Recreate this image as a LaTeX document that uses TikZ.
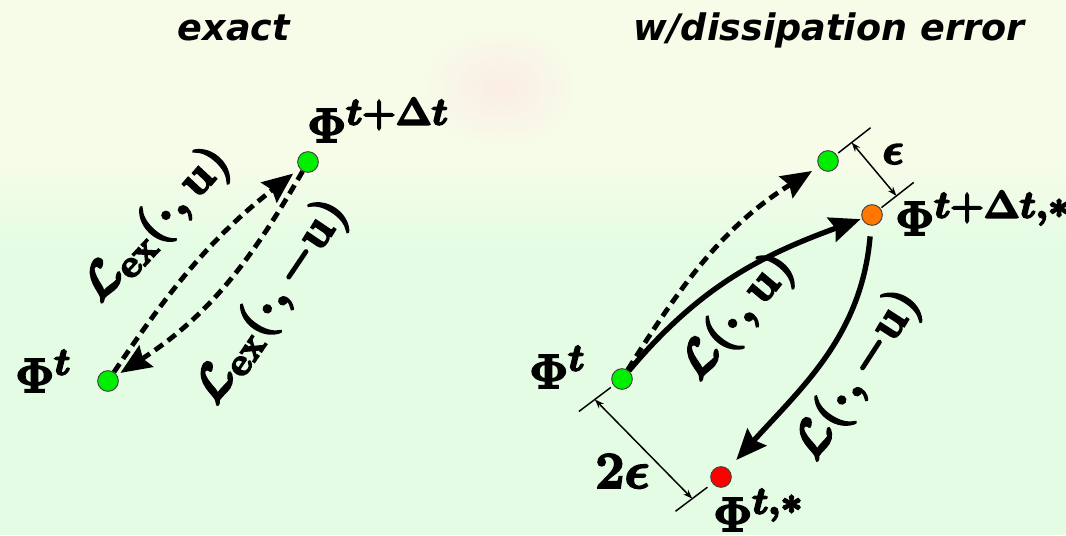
\documentclass[tikz,border=0pt]{standalone}
\usepackage{fix-cm}
\usepackage[no-math]{fontspec}
\newfontfamily\titlefont{DejaVu Sans}
\usetikzlibrary{arrows.meta,calc}
\DeclareMathSizes{36}{36}{28.8}{21.6}
\DeclareMathSizes{33}{33}{26.4}{19.8}
\DeclareMathSizes{39}{39}{31.2}{23.4}
\definecolor{bg}{RGB}{227,252,227}
\definecolor{cream}{RGB}{247,252,233}
\definecolor{blobpink}{RGB}{251,236,228}
\definecolor{ptgreen}{RGB}{0,238,0}
\definecolor{ptorange}{RGB}{255,119,0}
\definecolor{ptred}{RGB}{255,0,0}
\pgfdeclareverticalshading{topband}{100bp}{color(0bp)=(bg); color(25bp)=(bg); color(44bp)=(cream); color(100bp)=(cream)}
\newcommand{\heavy}[1]{\special{pdf:literal direct 2 Tr 1.4 w}#1\special{pdf:literal direct 0 Tr}}
\newcommand{\mfont}{\fontsize{36}{40}\selectfont\boldmath}
\newcommand{\mfontS}{\fontsize{33}{38}\selectfont\boldmath}
\newcommand{\mfontL}{\fontsize{39}{44}\selectfont\boldmath}
\begin{document}
\begin{tikzpicture}[x=0.75pt,y=0.75pt,
  pt/.style={circle,draw=black!75,line width=0.7pt,minimum size=15.5pt,inner sep=0pt},
  lbl/.style={inner sep=0pt,font=\mfont},
  dasharr/.style={line width=3.6pt,dash pattern=on 7.5pt off 4.5pt,arrows={-Stealth[length=23pt,width=19pt,inset=3pt]}},
  solarr/.style={line width=4pt,arrows={-Stealth[length=23pt,width=19pt,inset=3pt]}},
  dimline/.style={line width=1.1pt},
  dimarr/.style={arrows={Stealth[length=7pt,width=5pt]-Stealth[length=7pt,width=5pt]}},
  ttl/.style={anchor=base,inner sep=0pt,font=\fontsize{27.4}{30}\titlefont\bfseries\itshape}
]
\useasboundingbox (0,0) rectangle (1066,535);
\begin{scope}
\clip (0,0) rectangle (1066,535);
\fill[bg] (0,0) rectangle (1066,535);
\shade[shading=topband] (0,280) rectangle (1066,535);
\shade[inner color=blobpink,outer color=cream] (500,448) ellipse (80 and 62);
\end{scope}

% titles
\node[ttl] (t1) at (234,494) {exact};
\node[ttl] (t2) at (829,494) {w/dissipation error};

% left: exact
\node[pt,fill=ptgreen] (p0) at (108,154) {};
\node[pt,fill=ptgreen] (p1) at (308,373) {};
\node[lbl,anchor=base west] (lp0) at (15,143) {\heavy{$\Phi^{t}$}};
\node[lbl,anchor=base west] (lp1) at (307,393) {\heavy{$\Phi^{t+\Delta t}$}};
\draw[dasharr,shorten >=6pt] (p0) to[out=56,in=218] (p1);
\draw[dasharr,shorten >=3pt] (p1) to[out=240,in=33] (p0);
\node[lbl,rotate=47] (lA) at (157,310) {\heavy{$\mathcal{L}_{\mathbf{ex}}(\cdot,\mathbf{u})$}};
\node[lbl,rotate=56] (lB) at (272,233) {\heavy{$\mathcal{L}_{\mathbf{ex}}(\cdot,-\mathbf{u})$}};

% right: with dissipation error
\node[pt,fill=ptgreen] (q0) at (622,156) {};
\node[pt,fill=ptgreen] (qex) at (828,374) {};
\node[pt,fill=ptorange] (qor) at (872,320) {};
\node[pt,fill=ptred] (qr) at (721,58) {};
\node[lbl,anchor=base west] (lq0) at (529,147) {\heavy{$\Phi^{t}$}};
\node[lbl,anchor=base west] (lqor) at (895,300) {\heavy{$\Phi^{t+\Delta t,*}$}};
\node[lbl,anchor=base west] (lqr) at (713,4) {\heavy{$\Phi^{t,*}$}};
\draw[dasharr,shorten >=6pt] (q0) to[out=58,in=212] (qex);
\draw[solarr,shorten >=1pt] (q0) to[out=50,in=200] (qor);
\draw[solarr,shorten <=8pt,shorten >=9pt] (qor) to[out=265,in=48] (qr);
\node[lbl,rotate=50] (lC) at (738,218) {\heavy{$\mathcal{L}(\cdot,\mathbf{u})$}};
\node[lbl,rotate=57] (lD) at (858,160) {\heavy{$\mathcal{L}(\cdot,-\mathbf{u})$}};

% dimension marks
\coordinate (a1) at ($(qex)+(38:13)$);
\coordinate (a2) at ($(qex)+(38:54)$);
\coordinate (b1) at ($(qor)+(38:12)$);
\coordinate (b2) at ($(qor)+(38:53)$);
\coordinate (am) at ($(qex)+(38:30)$);
\coordinate (bm) at ($(qor)+(38:31)$);
\draw[dimline] (a1) -- (a2);
\draw[dimline] (b1) -- (b2);
\draw[dimline,dimarr] (am) -- (bm);
\node[lbl,font=\mfontS] (leps) at (893,381) {\heavy{$\epsilon$}};

\coordinate (c1) at ($(q0)+(217:14)$);
\coordinate (c2) at ($(q0)+(217:54)$);
\coordinate (d1) at ($(qr)+(217:17)$);
\coordinate (d2) at ($(qr)+(217:57)$);
\coordinate (cm) at ($(q0)+(217:34)$);
\coordinate (dm) at ($(qr)+(217:36)$);
\draw[dimline] (c1) -- (c2);
\draw[dimline] (d1) -- (d2);
\draw[dimline,dimarr] (cm) -- (dm);
\node[lbl,font=\mfontL,anchor=base west] (l2eps) at (595,47) {\heavy{$2\epsilon$}};
\end{tikzpicture}
\end{document}
